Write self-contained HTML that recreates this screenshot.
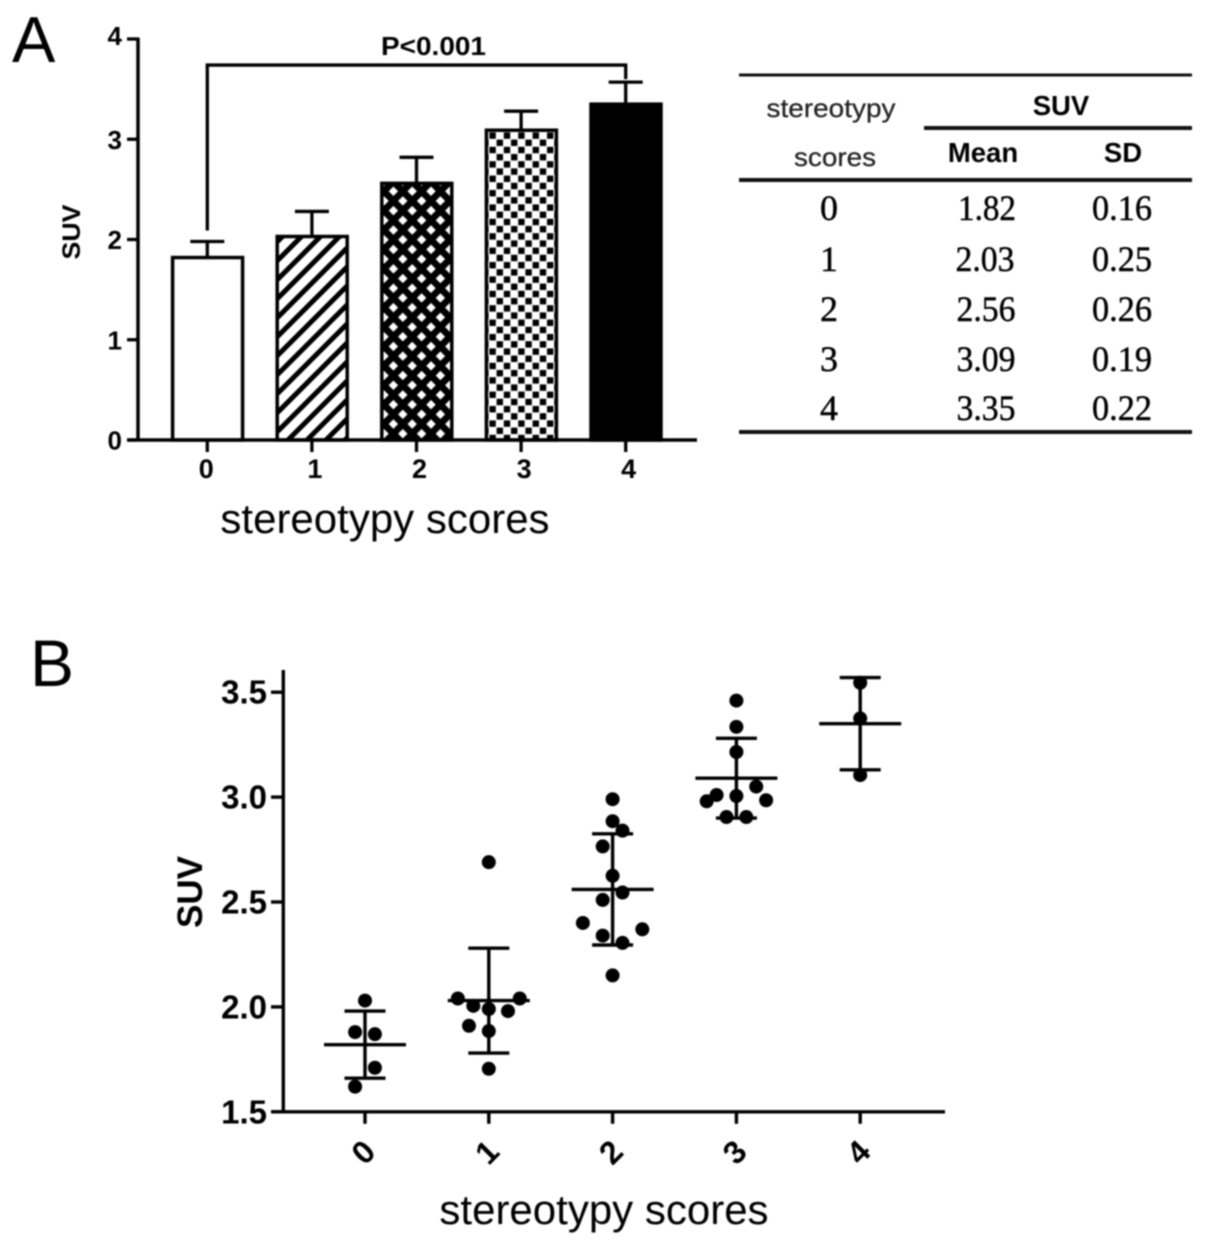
<!DOCTYPE html>
<html lang="en">
<head>
<meta charset="utf-8">
<title>SUV by stereotypy scores</title>
<style>
html,body{margin:0;padding:0;background:#fff;}
#figure{display:block;width:1205px;height:1245px;filter:blur(0.75px);}
text{font-family:"Liberation Sans",sans-serif;fill:#000;}
.bold{font-weight:bold;}
.serif{font-family:"Liberation Serif",serif;fill:#000;stroke:#000;stroke-width:0.45px;}
.soft{fill:#222;stroke:#222;stroke-width:0.25px;}
</style>
</head>
<body>
<svg id="figure" xmlns="http://www.w3.org/2000/svg" width="1205" height="1245" viewBox="0 0 1205 1245">
  <defs>
    <pattern id="stripes" width="19" height="19" patternUnits="userSpaceOnUse" patternTransform="translate(279 240)">
      <rect width="19" height="19" fill="#fff"/>
      <path d="M-5 5L5-5M-5 24L24-5M14 24L24 14" stroke="#000" stroke-width="5" fill="none"/>
    </pattern>
    <pattern id="diamonds" width="18.8" height="19.4" patternUnits="userSpaceOnUse" patternTransform="translate(384 186)">
      <rect width="18.8" height="19.4" fill="#000"/>
      <path d="M9.4 0.5L14.1 5.2L9.4 9.9L4.7 5.2Z M0 10.2L4.7 14.9L0 19.6L-4.7 14.9Z M18.8 10.2L23.5 14.9L18.8 19.6L14.1 14.9Z" fill="#fff"/>
    </pattern>
    <pattern id="checker" width="14.4" height="14.4" patternUnits="userSpaceOnUse" patternTransform="translate(489 132)">
      <rect width="14.4" height="14.4" fill="#fff"/>
      <rect x="0.4" y="0.4" width="6.4" height="6.4" fill="#000"/>
      <rect x="7.6" y="7.6" width="6.4" height="6.4" fill="#000"/>
    </pattern>
  </defs>

  <g id="panel-a">
    <text x="12" y="62" font-size="65">A</text>
    <text class="bold" x="0" y="0" font-size="25" text-anchor="middle" textLength="55" lengthAdjust="spacingAndGlyphs" transform="translate(80 232) rotate(-90)">SUV</text>
    <text x="385" y="533" font-size="42" text-anchor="middle">stereotypy scores</text>
    <text class="bold" x="433.5" y="55" font-size="26" text-anchor="middle" textLength="105" lengthAdjust="spacingAndGlyphs">P&lt;0.001</text>
  </g>

  <g id="panel-b">
    <text x="30" y="686" font-size="66">B</text>
    <text class="bold" x="0" y="0" font-size="35" text-anchor="middle" transform="translate(202 892) rotate(-90)">SUV</text>
    <text x="604" y="1224" font-size="42" text-anchor="middle">stereotypy scores</text>
  </g>

  <g id="summary-table">
    <line x1="739" y1="75" x2="1192" y2="75" stroke="#111" stroke-width="3"/>
    <line x1="924" y1="128" x2="1192" y2="128" stroke="#111" stroke-width="4"/>
    <line x1="739" y1="180" x2="1192" y2="180" stroke="#111" stroke-width="4"/>
    <line x1="739" y1="432" x2="1192" y2="432" stroke="#111" stroke-width="4"/>
    <text class="soft" x="831" y="117" font-size="26" text-anchor="middle" textLength="129" lengthAdjust="spacingAndGlyphs">stereotypy</text>
    <text class="soft" x="835" y="166" font-size="26" text-anchor="middle" textLength="82" lengthAdjust="spacingAndGlyphs">scores</text>
    <text class="bold" x="1061" y="115" font-size="27.5" text-anchor="middle">SUV</text>
    <text class="bold" x="983" y="162" font-size="27.5" text-anchor="middle">Mean</text>
    <text class="bold" x="1123" y="162" font-size="27.5" text-anchor="middle">SD</text>

    <text class="serif" x="829" y="220" font-size="36" text-anchor="middle">0</text>
    <text class="serif" x="987" y="220" font-size="36" text-anchor="middle" textLength="58" lengthAdjust="spacingAndGlyphs">1.82</text>
    <text class="serif" x="1122" y="220" font-size="36" text-anchor="middle" textLength="60" lengthAdjust="spacingAndGlyphs">0.16</text>

    <text class="serif" x="829" y="271" font-size="36" text-anchor="middle">1</text>
    <text class="serif" x="985" y="271" font-size="36" text-anchor="middle" textLength="59" lengthAdjust="spacingAndGlyphs">2.03</text>
    <text class="serif" x="1122" y="271" font-size="36" text-anchor="middle" textLength="60" lengthAdjust="spacingAndGlyphs">0.25</text>

    <text class="serif" x="829" y="321" font-size="36" text-anchor="middle">2</text>
    <text class="serif" x="986" y="321" font-size="36" text-anchor="middle" textLength="59" lengthAdjust="spacingAndGlyphs">2.56</text>
    <text class="serif" x="1122" y="321" font-size="36" text-anchor="middle" textLength="60" lengthAdjust="spacingAndGlyphs">0.26</text>

    <text class="serif" x="829" y="371" font-size="36" text-anchor="middle">3</text>
    <text class="serif" x="986" y="371" font-size="36" text-anchor="middle" textLength="59" lengthAdjust="spacingAndGlyphs">3.09</text>
    <text class="serif" x="1122" y="371" font-size="36" text-anchor="middle" textLength="60" lengthAdjust="spacingAndGlyphs">0.19</text>

    <text class="serif" x="829" y="420" font-size="36" text-anchor="middle">4</text>
    <text class="serif" x="986" y="420" font-size="36" text-anchor="middle" textLength="59" lengthAdjust="spacingAndGlyphs">3.35</text>
    <text class="serif" x="1122" y="420" font-size="36" text-anchor="middle" textLength="60" lengthAdjust="spacingAndGlyphs">0.22</text>
  </g>
</svg>

<script>
// ---- Chart data ----
const categories = ['0', '1', '2', '3', '4'];
const barMeans = [1.82, 2.03, 2.56, 3.09, 3.35];
const barSDs = [0.16, 0.25, 0.26, 0.19, 0.22];
const barYTicks = ['0', '1', '2', '3', '4'];
const scatterYTicks = ['1.5', '2.0', '2.5', '3.0', '3.5'];
const scatterMeans = [1.82, 2.03, 2.56, 3.09, 3.35];
const scatterSDs = [0.16, 0.25, 0.265, 0.19, 0.22];
// Per-group sample values and their horizontal swarm offsets (fraction of a category).
const group0Values = [2.03, 1.88, 1.87, 1.71, 1.62];
const group0Jitter = [0, -0.08, 0.08, 0.08, -0.08];
const group1Values = [2.69, 2.04, 2.04, 2.005, 1.99, 1.98, 1.91, 1.885, 1.705];
const group1Jitter = [0, -0.25, 0.25, -0.125, 0, 0.155, -0.16, 0, 0];
const group2Values = [2.99, 2.885, 2.84, 2.765, 2.625, 2.545, 2.51, 2.37, 2.4, 2.34, 2.305, 2.15];
const group2Jitter = [0, 0, 0.08, -0.08, 0, 0.08, -0.08, 0.24, -0.24, -0.08, 0.08, 0];
const group3Values = [3.46, 3.335, 3.215, 3.05, 3.01, 3.005, 2.98, 2.985, 2.905, 2.905];
const group3Jitter = [0, 0, 0, 0.16, -0.16, 0, -0.24, 0.24, -0.08, 0.08];
const group4Values = [3.545, 3.375, 3.105];
const group4Jitter = [0, 0, 0];
const scatterGroups = [group0Values, group1Values, group2Values, group3Values, group4Values];
const scatterJitter = [group0Jitter, group1Jitter, group2Jitter, group3Jitter, group4Jitter];
const bracketStartValue = 2.09;
const bracketTopValue = 3.74;
const bracketEndValue = 3.6;

// ---- Axis functions ----
function xA(i) { return 207.3 + 104.6 * i; }
function yA(v) { return 440 - 100.25 * v; }
function xB(c) { return 365 + 123.8 * c; }
function yB(v) { return 1111.8 - 209.8 * (v - 1.5); }

const NS = 'http://www.w3.org/2000/svg';
const panelA = document.getElementById('panel-a');
const panelB = document.getElementById('panel-b');
const fills = ['#fff', 'url(#stripes)', 'url(#diamonds)', 'url(#checker)', '#000'];

function mk(tag, attrs, parent, label) {
  const el = document.createElementNS(NS, tag);
  for (const k in attrs) el.setAttribute(k, attrs[k]);
  if (label !== undefined) el.textContent = label;
  parent.appendChild(el);
  return el;
}
function seg(parent, x1, y1, x2, y2, w) {
  return mk('line', {x1: x1, y1: y1, x2: x2, y2: y2, stroke: '#000', 'stroke-width': w}, parent);
}

// ---- Panel A ----
categories.forEach(function (c, i) {
  const cx = xA(i);
  const top = yA(barMeans[i]);
  const errTop = yA(barMeans[i] + barSDs[i]);
  const bar = mk('rect', {x: cx - 34.7, y: top, width: 70, height: yA(0) - top, fill: fills[i], stroke: '#000', 'stroke-width': 3.5}, panelA);
  
  
  const stem = seg(panelA, cx, top, cx, errTop, 3.3);
  
  
  const cap = seg(panelA, cx - 17, errTop, cx + 17, errTop, 3.3);
  
  
  const tick = seg(panelA, cx, yA(0), cx, yA(0) + 12, 3.3);
  
  
  const lab = mk('text', {x: cx + (i === 0 ? -1 : 3), y: 478, 'font-size': 27, 'font-weight': 'bold', 'text-anchor': 'middle'}, panelA, c);
  
  
});
barYTicks.forEach(function (t) {
  const y = yA(Number(t));
  const tick = seg(panelA, 127, y, 138, y, 3.3);
  
  
  const lab = mk('text', {x: 122, y: y + (t === '4' ? 6 : 9.5), 'font-size': 26, 'font-weight': 'bold', 'text-anchor': 'end'}, panelA, t);
  
  
});
const axisAY = seg(panelA, 138, yA(4) - 1.5, 138, yA(0) + 1.5, 3.5);


const axisAX = seg(panelA, 127, yA(0), 697, yA(0), 3.5);


const bracket = mk('path', {
  d: 'M' + xA(0) + ' ' + yA(bracketStartValue) + 'V' + yA(bracketTopValue) + 'H' + xA(4) + 'V' + yA(bracketEndValue),
  fill: 'none', stroke: '#000', 'stroke-width': 3.3
}, panelA);



// ---- Panel B ----
scatterGroups.forEach(function (values, g) {
  values.forEach(function (v, k) {
    const dot = mk('circle', {cx: xB(g + scatterJitter[g][k]), cy: yB(v), r: 7, fill: '#000'}, panelB);
    
    
  });
});
categories.forEach(function (c, i) {
  const cx = xB(i);
  const hi = yB(scatterMeans[i] + scatterSDs[i]);
  const lo = yB(scatterMeans[i] - scatterSDs[i]);
  const m = yB(scatterMeans[i]);
  const stem = seg(panelB, cx, hi, cx, lo, 3.4);
  
  
  const capHi = seg(panelB, cx - 20.5, hi, cx + 20.5, hi, 3.4);
  
  
  const capLo = seg(panelB, cx - 20.5, lo, cx + 20.5, lo, 3.4);
  
  
  const meanLine = seg(panelB, cx - 41, m, cx + 41, m, 3.4);
  
  
  const tick = seg(panelB, cx, yB(1.5), cx, yB(1.5) + 12, 3.4);
  
  
  const lab = mk('text', {x: 0, y: 0, 'font-size': 32, 'font-weight': 'bold', 'text-anchor': 'middle', transform: 'translate(' + (cx + 6) + ' 1160) rotate(-45)'}, panelB, c);
  
  
});
scatterYTicks.forEach(function (t) {
  const y = yB(Number(t));
  const tick = seg(panelB, 271, y, 283, y, 3.4);
  
  
  const lab = mk('text', {x: 267, y: y + 11.5, 'font-size': 33, 'font-weight': 'bold', 'text-anchor': 'end'}, panelB, t);
  
  
});
const axisBY = seg(panelB, 283.3, 670, 283.3, yB(1.5) + 1.5, 3.4);


const axisBX = seg(panelB, 271, yB(1.5), 945, yB(1.5), 3.4);


</script>
</body>
</html>
